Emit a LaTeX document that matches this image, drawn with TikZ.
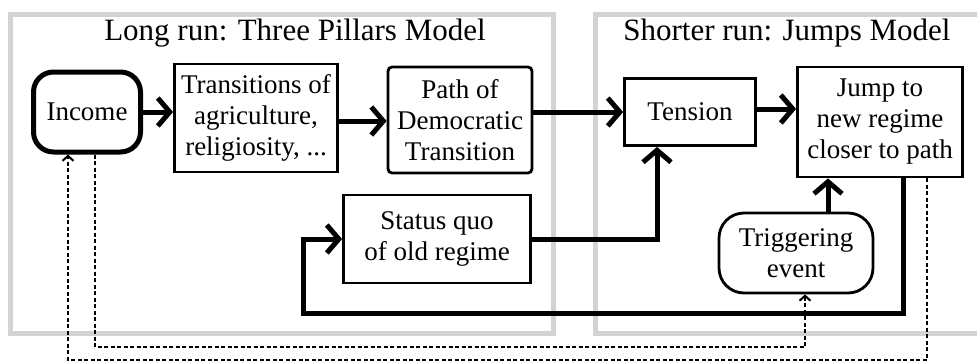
\documentclass[tikz,border=0pt]{standalone}
\usepackage{fontspec}
\setmainfont{Liberation Serif}
\usetikzlibrary{arrows.meta}
\definecolor{panelgray}{RGB}{211,211,211}
\newcommand\boxfont{\fontsize{27}{31}\selectfont}
\newcommand\headfont{\fontsize{31}{36}\selectfont}
\tikzset{
  panel/.style={draw=panelgray,line width=5pt},
  stepbox/.style={draw,line width=2.8pt,align=center,font=\boxfont,inner sep=2pt},
  flow/.style={line width=5pt,-{Straight Barb[length=12pt,width=28pt]}},
  feedback/.style={line width=2pt,dash pattern=on 4pt off 2.5pt,-{Straight Barb[length=5pt,width=11pt]}}
}
\begin{document}
\begin{tikzpicture}[x=1pt,y=-1pt]
\clip (0,0) rectangle (977,362);
\fill[white] (0,0) rectangle (977,362);
% two panels
\draw[panel] (10,14) rectangle (553,333);
\draw[panel] (595,14) rectangle (995,333);
\node[font=\headfont] (longrun) at (295,33) {Long run: Three Pillars Model};
\node[font=\headfont] (shortrun) at (787,33) {Shorter run: Jumps Model};

\node[stepbox,line width=5pt,rounded corners=20pt,minimum width=107pt,minimum height=80pt] (income) at (87,112) {Income};
\node[stepbox,minimum width=163pt,minimum height=108pt] (trans) at (256,118) {Transitions of\\agriculture,\\religiosity, ...};
\node[stepbox,rounded corners=4pt,minimum width=144pt,minimum height=106pt] (path) at (460,120) {Path of\\Democratic\\Transition};
\node[stepbox,minimum width=131pt,minimum height=67pt] (tension) at (690,112) {Tension};
\node[stepbox,minimum width=165pt,minimum height=110pt] (jump) at (880,122) {Jump to\\new regime\\closer to path};
\node[stepbox,minimum width=187pt,minimum height=88pt] (status) at (437,239) {Status quo\\of old regime};
\node[stepbox,rounded corners=25pt,minimum width=154pt,minimum height=80pt] (trig) at (796,253) {Triggering\\event};

\coordinate (loopbr) at (903,313);
\coordinate (loopbl) at (303,313);
\coordinate (dashbr) at (927,360);
\coordinate (dashbl) at (68,360);
\coordinate (dashtl) at (95,347);
\coordinate (dashtr) at (805,347);

\draw[flow] (income.east) -- (income.east -| trans.west);
\draw[flow] ([yshift=-3pt]trans.east) -- ([yshift=-3pt]trans.east -| path.west);
\draw[flow] (tension.west -| path.east) -- (tension.west);
\draw[flow] ([yshift=3pt]tension.east) -- ([yshift=3pt]tension.east -| jump.west);
\draw[flow] (status.east) -| ([xshift=-33pt]tension.south);
\draw[flow] ([xshift=32pt]trig.north) -- ([xshift=32pt]trig.north |- jump.south);
\draw[flow,line join=miter] ([xshift=23pt]jump.south) -- (loopbr) -- (loopbl) |- (status.west);

\draw[feedback] ([xshift=47pt]jump.south) -- (dashbr) -- (dashbl) -- (dashbl |- income.south);
\draw[feedback] ([xshift=8pt]income.south) -- (dashtl) -- (dashtr) -- (dashtr |- trig.south);

\end{tikzpicture}
\end{document}
